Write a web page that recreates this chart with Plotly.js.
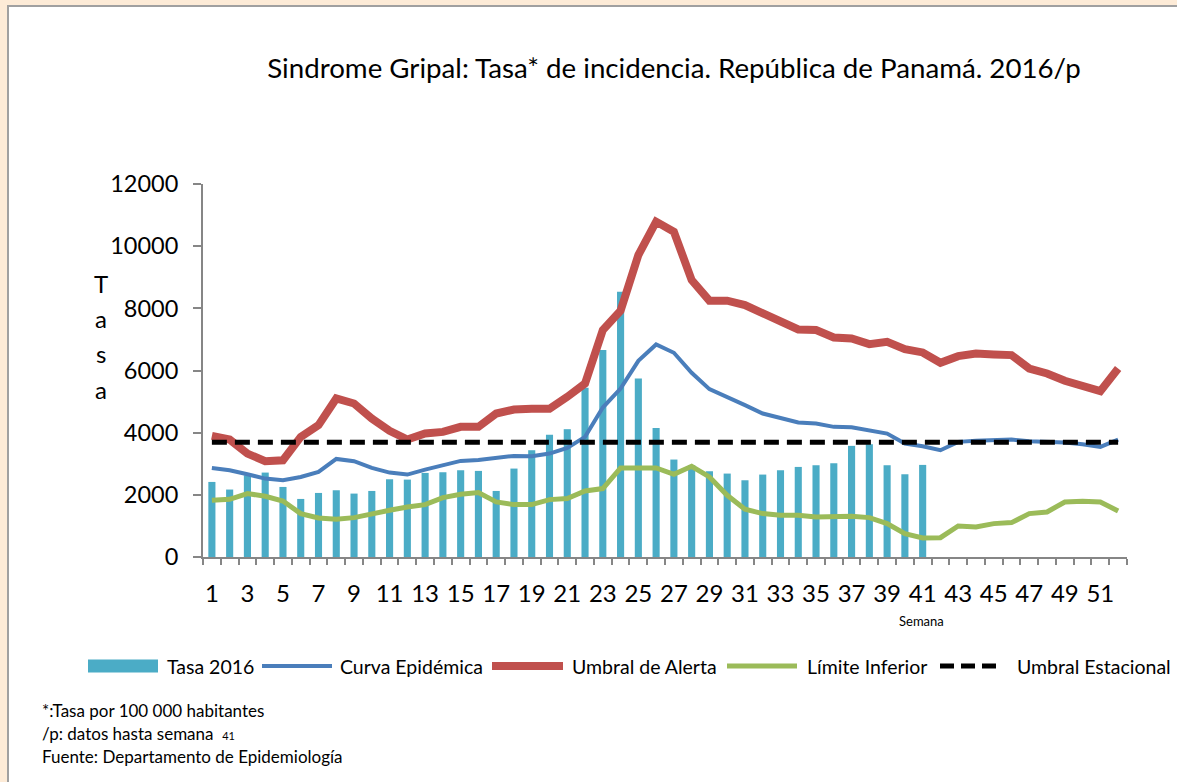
<!DOCTYPE html>
<html>
<head>
<meta charset="utf-8">
<script src="https://cdn.plot.ly/plotly-3.0.1.min.js"></script>
<style>
  html, body { margin: 0; padding: 0; background: #fdebd7; }
  #frame { position: absolute; left: 7px; top: 5px; width: 1200px; height: 800px;
           background: #ffffff; border-left: 2px solid #a0a0a0; border-top: 2px solid #a0a0a0; }
  #plot { position: absolute; left: 0; top: 0; width: 1177px; height: 782px; }
</style>
</head>
<body>
<div id="frame"></div>
<div id="plot"></div>
<script>
// semanas epidemiológicas 1..52
const semanas = [1,2,3,4,5,6,7,8,9,10,11,12,13,14,15,16,17,18,19,20,21,22,23,24,25,26,
                 27,28,29,30,31,32,33,34,35,36,37,38,39,40,41,42,43,44,45,46,47,48,49,50,51,52];

// tasa 2016 (datos hasta semana 41)
const tasa2016 = [2415,2170,2630,2716,2254,1868,2061,2147,2040,2125,2501,2490,2705,2727,2791,2770,2125,
                  2845,3435,3929,4112,5443,6656,8534,5743,4154,3135,2950,2759,2684,2469,2652,2791,2898,
                  2952,3016,3575,3628,2952,2662,2963];

const curvaEpidemica = [2866,2791,2662,2523,2469,2576,2737,3156,3081,2866,2716,2652,2812,2952,3092,3124,3188,
                        3253,3242,3328,3510,3865,4809,5421,6312,6838,6570,5926,5400,5153,4885,4616,4455,4326,
                        4294,4187,4176,4058,3972,3650,3564,3435,3704,3736,3757,3779,3725,3704,3682,3628,3543,3779];

const umbralAlerta = [3897,3779,3328,3081,3113,3865,4240,5099,4938,4455,4058,3779,3972,4026,4187,4187,4616,
                      4745,4766,4766,5153,5582,7300,7922,9715,10789,10467,8910,8245,8245,8105,7837,7600,7321,
                      7300,7064,7031,6849,6924,6688,6581,6248,6462,6548,6516,6495,6065,5904,5668,5507,5335,6065];

const limiteInferior = [1825,1857,2040,1954,1803,1396,1256,1213,1267,1396,1503,1610,1685,1911,2018,2072,1771,
                        1685,1685,1846,1879,2125,2201,2866,2877,2866,2662,2920,2576,1986,1535,1396,1342,1342,
                        1288,1310,1310,1267,1074,751,612,623,998,966,1074,1106,1396,1449,1771,1793,1771,1481];

const umbralEstacional = [3690,3690,3690,3690,3690,3690,3690,3690,3690,3690,3690,3690,3690,3690,3690,3690,3690,
                          3690,3690,3690,3690,3690,3690,3690,3690,3690,3690,3690,3690,3690,3690,3690,3690,3690,
                          3690,3690,3690,3690,3690,3690,3690,3690,3690,3690,3690,3690,3690,3690,3690,3690,3690,3690];

const xTicks = [1,3,5,7,9,11,13,15,17,19,21,23,25,27,29,31,33,35,37,39,41,43,45,47,49,51];
const yTicks = [0,2000,4000,6000,8000,10000,12000];

const nombres = ["Tasa 2016", "Curva Epidémica", "Umbral de Alerta", "Límite Inferior", "Umbral Estacional"];
const colores = ["#4bacc6", "#4a7ebb", "#c0504d", "#9bbb59", "#000000"];
const ejeY = ["T", "a", "s", "a"];

const FONT = "Lato, 'Open Sans', sans-serif";

// plot area in pixels: x 203..1127, y 184..557
const L = 203, R = 1127, T = 184, B = 557;
const px2x = p => (p - L) / (R - L);
const py2y = p => (B - p) / (B - T);

const traces = [
  { x: semanas.slice(0, tasa2016.length), y: tasa2016, type: "bar", name: nombres[0],
    marker: { color: colores[0] }, width: 0.4 },
  { x: semanas, y: curvaEpidemica, type: "scatter", mode: "lines", name: nombres[1],
    line: { color: colores[1], width: 4 } },
  { x: semanas, y: umbralAlerta, type: "scatter", mode: "lines", name: nombres[2],
    line: { color: colores[2], width: 8 } },
  { x: semanas, y: limiteInferior, type: "scatter", mode: "lines", name: nombres[3],
    line: { color: colores[3], width: 5 } },
  { x: semanas, y: umbralEstacional, type: "scatter", mode: "lines", name: nombres[4],
    line: { color: colores[4], width: 5, dash: "15px,8px" } }
];

// manual legend (long swatches like the original)
const legendY = 666;
const legendItems = [
  { x0: 88, x1: 158, tx: 165 },
  { x0: 262, x1: 332, tx: 338 },
  { x0: 492, x1: 563, tx: 570 },
  { x0: 727, x1: 797, tx: 805 },
  { x0: 940, x1: 1002, tx: 1015 }
];
const shapes = [];
const annotations = [];
legendItems.forEach((it, i) => {
  if (i === 0) {
    shapes.push({ type: "rect", xref: "paper", yref: "paper",
      x0: px2x(it.x0), x1: px2x(it.x1), y0: py2y(legendY + 6.5), y1: py2y(legendY - 6.5),
      fillcolor: colores[0], line: { width: 0 } });
  } else {
    const w = [0, 4, 8, 5, 5][i];
    shapes.push({ type: "line", xref: "paper", yref: "paper",
      x0: px2x(it.x0), x1: px2x(it.x1), y0: py2y(legendY), y1: py2y(legendY),
      line: { color: colores[i], width: w, dash: i === 4 ? "14px,7px" : "solid" } });
  }
  annotations.push({ text: nombres[i], xref: "paper", yref: "paper",
    x: px2x(it.tx), y: py2y(legendY), xanchor: "left", yanchor: "middle",
    showarrow: false, font: { family: FONT, size: 19.5, color: "#000" } });
});

// y axis title as stacked letters
const ejeYpos = [283, 318, 353, 389];
ejeY.forEach((c, i) => {
  annotations.push({ text: c, xref: "paper", yref: "paper",
    x: px2x(101), y: py2y(ejeYpos[i]), xanchor: "center", yanchor: "middle", showarrow: false,
    font: { family: FONT, size: 24, color: "#000" } });
});

// x axis title
annotations.push({ text: "Semana", xref: "paper", yref: "paper",
  x: px2x(921), y: py2y(621), xanchor: "center", yanchor: "middle", showarrow: false,
  font: { family: FONT, size: 13, color: "#000" } });

// notas
const notas = ["*:Tasa por 100 000 habitantes",
               "/p: datos hasta semana  <span style='font-size:11px'>41</span>",
               "Fuente: Departamento de Epidemiología"];
const notasY = [710, 733, 756];
notas.forEach((t, i) => {
  annotations.push({ text: t, xref: "paper", yref: "paper",
    x: px2x(40), y: py2y(notasY[i]), xanchor: "left", yanchor: "middle", showarrow: false,
    font: { family: FONT, size: 17, color: "#000" } });
});

const layout = {
  width: 1177, height: 782,
  paper_bgcolor: "rgba(0,0,0,0)", plot_bgcolor: "rgba(0,0,0,0)",
  margin: { l: L, r: 1177 - R, t: T, b: 782 - B },
  showlegend: false,
  title: { text: "Sindrome Gripal: Tasa* de incidencia. República de Panamá. 2016/p",
    xref: "container", yref: "container", x: 674 / 1177, y: 1 - 68 / 782,
    xanchor: "center", yanchor: "middle",
    font: { family: FONT, size: 27.7, color: "#000" } },
  xaxis: {
    range: [0.5, 52.5], tickvals: xTicks, ticktext: xTicks.map(String),
    ticks: "outside", ticklen: 0, ticklabelstandoff: 14,
    showgrid: false, zeroline: false,
    showline: true, linecolor: "#868686", linewidth: 2,
    tickfont: { family: FONT, size: 24, color: "#000" },
    minor: { tick0: 0.5, dtick: 1, ticks: "outside", ticklen: 6, tickcolor: "#868686", tickwidth: 1.5, showgrid: false }
  },
  yaxis: {
    range: [0, 12000], tickvals: yTicks, ticktext: yTicks.map(String),
    ticks: "outside", ticklen: 8, tickcolor: "#868686", tickwidth: 1.5,
    ticklabelstandoff: 10,
    showgrid: false, zeroline: false,
    showline: true, linecolor: "#868686", linewidth: 2,
    tickfont: { family: FONT, size: 23.5, color: "#000" }
  },
  bargap: 0.6,
  shapes: shapes,
  annotations: annotations
};

Plotly.newPlot("plot", traces, layout, { displayModeBar: false, responsive: false });
</script>
</body>
</html>
